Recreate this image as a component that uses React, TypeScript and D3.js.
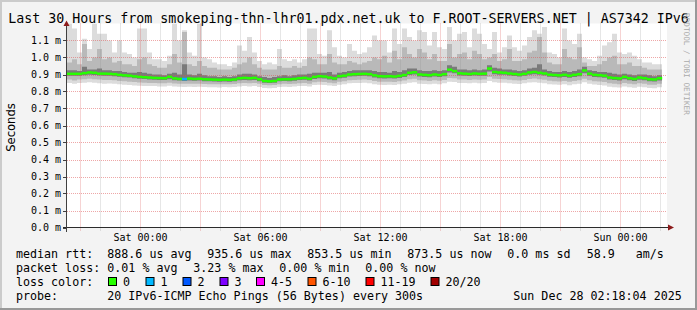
import React from 'react';
import * as d3 from 'd3';

const W = 697;
const H = 310;

const titleText = 'Last 30 Hours from smokeping-thn-lhr01.pdx.net.uk to F.ROOT-SERVERS.NET | AS7342 IPv6';
const yAxisLabel = 'Seconds';
const watermark = 'RRDTOOL / TOBI OETIKER';

const startTime = new Date(2025, 11, 26, 20, 18, 4);
const endTime = new Date(2025, 11, 28, 2, 18, 4);
const firstSample = new Date(2025, 11, 26, 20, 21, 0);
const stepMinutes = 15;

// median RTT (ms)
const median = [
  0.904, 0.904, 0.904, 0.908, 0.912, 0.910, 0.905, 0.905, 0.904, 0.902,
  0.898, 0.895, 0.893, 0.889, 0.886, 0.884, 0.882, 0.880, 0.879, 0.878,
  0.886, 0.877, 0.874, 0.873, 0.876, 0.874, 0.875, 0.872, 0.871, 0.870,
  0.869, 0.870, 0.869, 0.871, 0.878, 0.880, 0.878, 0.880, 0.872, 0.862,
  0.860, 0.862, 0.871, 0.872, 0.872, 0.874, 0.878, 0.880, 0.875, 0.886,
  0.890, 0.888, 0.882, 0.877, 0.890, 0.893, 0.900, 0.902, 0.903, 0.904,
  0.902, 0.895, 0.890, 0.889, 0.890, 0.888, 0.892, 0.897, 0.910, 0.913,
  0.900, 0.898, 0.896, 0.900, 0.897, 0.902, 0.928, 0.920, 0.907, 0.905,
  0.903, 0.906, 0.904, 0.905, 0.935, 0.915, 0.912, 0.910, 0.906, 0.903,
  0.900, 0.904, 0.912, 0.915, 0.910, 0.906, 0.899, 0.897, 0.895, 0.898,
  0.893, 0.898, 0.902, 0.924, 0.905, 0.898, 0.896, 0.893, 0.882, 0.879,
  0.877, 0.886, 0.878, 0.874, 0.882, 0.878, 0.872, 0.871, 0.878,
];

// highest ping per step
const pingMax = [
  1.20, 1.17, 1.03, 1.11, 1.05, 1.20, 1.14, 1.14, 1.10, 1.03,
  1.10, 1.03, 1.02, 1.00, 1.17, 1.17, 1.03, 0.99, 0.99, 0.98,
  1.01, 1.20, 1.10, 1.16, 1.03, 1.01, 1.20, 1.00, 0.99, 0.97,
  0.96, 0.96, 0.95, 0.97, 1.07, 1.04, 1.12, 1.03, 0.98, 0.96,
  0.97, 0.96, 1.05, 0.99, 0.98, 0.99, 0.97, 0.99, 1.17, 1.17,
  1.02, 1.01, 1.16, 1.06, 1.01, 1.00, 1.08, 1.04, 1.02, 1.03,
  1.06, 1.13, 1.10, 1.10, 1.03, 1.17, 1.08, 1.17, 1.12, 1.10,
  1.16, 1.15, 1.07, 1.15, 1.06, 1.05, 1.18, 1.10, 1.14, 1.15,
  1.06, 1.17, 1.14, 1.08, 1.05, 1.15, 1.03, 1.06, 1.13, 1.06,
  1.04, 1.07, 1.12, 1.16, 1.14, 1.18, 1.03, 1.02, 1.00, 1.17,
  1.10, 1.08, 1.14, 1.00, 0.99, 0.98, 1.01, 1.07, 1.09, 1.14,
  1.03, 1.02, 1.03, 1.01, 0.99, 0.97, 0.97, 0.96, 0.96,
];

// upper outer percentile
const pingHighMid = [
  0.97, 0.99, 0.96, 1.08, 0.98, 1.00, 1.05, 0.99, 1.00, 0.97,
  0.98, 0.96, 0.96, 0.95, 0.99, 1.00, 0.96, 0.95, 0.94, 0.94,
  0.96, 1.02, 0.97, 1.15, 0.96, 0.95, 0.98, 0.95, 0.94, 0.94,
  0.93, 0.93, 0.93, 0.94, 0.96, 0.97, 1.00, 0.96, 0.94, 0.93,
  0.93, 0.93, 0.95, 0.94, 0.94, 0.95, 0.94, 0.95, 1.00, 0.99,
  0.96, 0.96, 1.02, 0.97, 0.96, 0.96, 0.98, 0.97, 0.96, 0.97,
  0.98, 1.00, 0.99, 1.01, 0.97, 1.04, 0.99, 1.06, 1.02, 1.00,
  1.05, 1.03, 0.99, 1.02, 0.98, 0.98, 1.08, 1.00, 1.02, 1.03,
  0.99, 1.04, 1.02, 0.99, 1.00, 1.02, 0.98, 0.99, 1.05, 0.98,
  0.98, 0.99, 1.03, 1.04, 1.12, 1.03, 0.97, 0.96, 0.96, 1.05,
  1.00, 0.99, 1.06, 0.97, 0.95, 0.95, 0.96, 0.98, 1.00, 1.01,
  0.96, 0.96, 0.97, 0.95, 0.95, 0.94, 0.93, 0.93, 0.93,
];

// upper inner percentile
const pingHighCore = [
  0.925, 0.925, 0.920, 0.945, 0.930, 0.930, 0.935, 0.925, 0.925, 0.920,
  0.920, 0.915, 0.910, 0.910, 0.915, 0.910, 0.905, 0.900, 0.900, 0.895,
  0.905, 0.910, 0.900, 0.960, 0.900, 0.895, 0.905, 0.895, 0.890, 0.890,
  0.885, 0.890, 0.885, 0.890, 0.900, 0.905, 0.905, 0.900, 0.890, 0.885,
  0.880, 0.885, 0.890, 0.895, 0.890, 0.895, 0.900, 0.900, 0.905, 0.910,
  0.910, 0.910, 0.915, 0.900, 0.910, 0.915, 0.920, 0.925, 0.925, 0.925,
  0.925, 0.920, 0.915, 0.915, 0.910, 0.920, 0.915, 0.925, 0.935, 0.935,
  0.925, 0.920, 0.920, 0.925, 0.920, 0.925, 0.955, 0.945, 0.930, 0.930,
  0.925, 0.930, 0.925, 0.930, 0.955, 0.940, 0.935, 0.930, 0.930, 0.925,
  0.920, 0.925, 0.935, 0.940, 0.960, 0.930, 0.920, 0.915, 0.915, 0.920,
  0.915, 0.920, 0.930, 0.945, 0.925, 0.920, 0.915, 0.915, 0.910, 0.905,
  0.900, 0.905, 0.900, 0.895, 0.900, 0.900, 0.895, 0.890, 0.895,
];

// lower inner percentile
const pingLowCore = [
  0.892, 0.892, 0.892, 0.895, 0.899, 0.897, 0.894, 0.893, 0.892, 0.890,
  0.887, 0.884, 0.882, 0.878, 0.875, 0.873, 0.871, 0.869, 0.868, 0.867,
  0.872, 0.866, 0.864, 0.862, 0.864, 0.863, 0.864, 0.861, 0.860, 0.859,
  0.858, 0.859, 0.858, 0.860, 0.866, 0.868, 0.866, 0.868, 0.861, 0.852,
  0.850, 0.852, 0.860, 0.862, 0.861, 0.863, 0.867, 0.869, 0.864, 0.874,
  0.878, 0.876, 0.871, 0.866, 0.878, 0.881, 0.888, 0.890, 0.891, 0.892,
  0.890, 0.883, 0.878, 0.877, 0.878, 0.876, 0.880, 0.885, 0.897, 0.900,
  0.888, 0.886, 0.884, 0.888, 0.885, 0.890, 0.912, 0.907, 0.894, 0.893,
  0.891, 0.894, 0.892, 0.893, 0.917, 0.902, 0.899, 0.898, 0.894, 0.891,
  0.888, 0.892, 0.899, 0.902, 0.898, 0.894, 0.887, 0.885, 0.883, 0.886,
  0.881, 0.886, 0.890, 0.907, 0.892, 0.886, 0.884, 0.881, 0.870, 0.867,
  0.865, 0.872, 0.866, 0.862, 0.869, 0.866, 0.860, 0.859, 0.865,
];

// lower outer percentile
const pingLowMid = [
  0.870, 0.865, 0.870, 0.872, 0.875, 0.872, 0.870, 0.868, 0.868, 0.866,
  0.862, 0.860, 0.858, 0.856, 0.853, 0.852, 0.850, 0.850, 0.849, 0.848,
  0.852, 0.847, 0.846, 0.845, 0.846, 0.845, 0.846, 0.844, 0.843, 0.842,
  0.842, 0.843, 0.842, 0.844, 0.848, 0.850, 0.848, 0.850, 0.845, 0.838,
  0.837, 0.838, 0.843, 0.845, 0.844, 0.846, 0.849, 0.850, 0.846, 0.855,
  0.858, 0.856, 0.852, 0.848, 0.858, 0.861, 0.866, 0.868, 0.869, 0.870,
  0.868, 0.862, 0.858, 0.857, 0.858, 0.856, 0.860, 0.864, 0.872, 0.875,
  0.866, 0.864, 0.862, 0.866, 0.863, 0.868, 0.880, 0.878, 0.870, 0.870,
  0.868, 0.871, 0.869, 0.870, 0.885, 0.875, 0.873, 0.872, 0.869, 0.866,
  0.864, 0.868, 0.874, 0.876, 0.872, 0.869, 0.863, 0.861, 0.859, 0.862,
  0.857, 0.862, 0.866, 0.875, 0.866, 0.861, 0.859, 0.856, 0.848, 0.845,
  0.843, 0.850, 0.845, 0.842, 0.848, 0.845, 0.840, 0.839, 0.845,
];

// lowest ping per step
const pingMin = [
  0.850, 0.845, 0.850, 0.852, 0.855, 0.852, 0.848, 0.846, 0.847, 0.845,
  0.842, 0.840, 0.838, 0.836, 0.834, 0.833, 0.832, 0.832, 0.830, 0.829,
  0.834, 0.829, 0.828, 0.827, 0.828, 0.826, 0.828, 0.826, 0.825, 0.825,
  0.824, 0.826, 0.825, 0.827, 0.830, 0.832, 0.830, 0.832, 0.827, 0.820,
  0.819, 0.820, 0.826, 0.828, 0.827, 0.829, 0.832, 0.833, 0.830, 0.838,
  0.840, 0.838, 0.835, 0.832, 0.840, 0.843, 0.848, 0.850, 0.850, 0.851,
  0.849, 0.843, 0.840, 0.838, 0.840, 0.838, 0.842, 0.846, 0.852, 0.855,
  0.846, 0.844, 0.842, 0.846, 0.843, 0.848, 0.858, 0.856, 0.850, 0.850,
  0.848, 0.851, 0.849, 0.850, 0.862, 0.854, 0.852, 0.851, 0.849, 0.846,
  0.844, 0.848, 0.853, 0.855, 0.851, 0.848, 0.843, 0.841, 0.839, 0.842,
  0.837, 0.842, 0.846, 0.855, 0.846, 0.841, 0.838, 0.835, 0.828, 0.825,
  0.823, 0.830, 0.825, 0.822, 0.828, 0.825, 0.820, 0.819, 0.825,
];

// lost pings per step (of 20)
const lossCount = [
  0, 0, 0, 0, 0, 0, 0, 0, 0, 0,
  0, 0, 0, 0, 0, 0, 0, 0, 0, 0,
  0, 0, 0, 1, 0, 0, 0, 0, 0, 0,
  0, 0, 0, 0, 0, 0, 0, 0, 0, 0,
  0, 0, 0, 0, 0, 0, 0, 0, 0, 0,
  0, 0, 0, 0, 0, 0, 0, 0, 0, 0,
  0, 0, 0, 0, 0, 0, 0, 0, 0, 0,
  0, 0, 0, 0, 0, 0, 0, 0, 0, 0,
  0, 0, 0, 0, 0, 0, 0, 0, 0, 0,
  0, 0, 0, 0, 0, 0, 0, 0, 0, 0,
  0, 0, 0, 0, 0, 0, 0, 0, 0, 0,
  0, 0, 0, 0, 0, 0, 0, 0, 0,
];

const lossLabels = ['0', '1', '2', '3', '4-5', '6-10', '11-19', '20/20'];
const lossUpper = [0, 1, 2, 3, 5, 10, 19, 20];
const lossColors = ['#26ff00', '#00b8ff', '#0059ff', '#7e00ff', '#ff00ff', '#ff5500', '#ff0000', '#a10000'];

const rttStats = ['888.6 us avg', '935.6 us max', '853.5 us min', '873.5 us now', '0.0 ms sd', '58.9   am/s'];
const lossStats = ['0.01 % avg', '3.23 % max', '0.00 % min', '0.00 % now'];
const probeText = '20 IPv6-ICMP Echo Pings (56 Bytes) every 300s';
const dateText = 'Sun Dec 28 02:18:04 2025';

type Row = { t: Date; med: number; max: number; hm: number; hc: number; lc: number; lm: number; min: number; loss: number };

const MONO = '"DejaVu Sans Mono", monospace';
const SANS = '"DejaVu Sans", sans-serif';

export default function App() {
  const x = d3.scaleTime().domain([startTime, endTime]).range([66, 666]);
  const y = d3.scaleLinear().domain([0, 1.2]).range([227.5, 23.5]);
  const stepMs = stepMinutes * 60000;

  const rows: Row[] = median.map((m, i) => ({
    t: new Date(firstSample.getTime() + i * stepMs),
    med: m,
    max: pingMax[i],
    hm: pingHighMid[i],
    hc: pingHighCore[i],
    lc: pingLowCore[i],
    lm: pingLowMid[i],
    min: pingMin[i],
    loss: lossCount[i],
  }));
  const last = rows[rows.length - 1];
  const padded = [...rows, { ...last, t: new Date(last.t.getTime() + stepMs) }];

  const band = (lo: keyof Row, hi: keyof Row) =>
    d3
      .area<Row>()
      .x((d) => x(d.t))
      .y0((d) => y(d[lo] as number))
      .y1((d) => y(d[hi] as number))
      .curve(d3.curveStepAfter)(padded) || '';

  const hours = x.ticks(d3.timeHour.every(1)!);
  const labelTicks = x.ticks(d3.timeHour.every(6)!);
  const fmtTime = d3.timeFormat('%a %H:%M');
  const yTicks = d3.range(0, 12).map((k) => k / 10);
  const fmtY = d3.format('.1f');

  const lossColorFor = (l: number) => {
    const idx = lossUpper.findIndex((u) => l <= u);
    return lossColors[idx < 0 ? lossColors.length - 1 : idx];
  };

  const rttX = [107.3, 207.3, 307.3, 407.3, 507.3, 586.7];
  const lossX = [107.3, 193.3, 279.3, 365.3];
  const boxX = [108, 145.5, 182.5, 219.5, 256, 307.5, 365.5, 430.5];

  return (
    <svg
      width={W}
      height={H}
      viewBox={`0 0 ${W} ${H}`}
      style={{ position: 'absolute', left: 0, top: 0, display: 'block' }}
    >
      <defs>
        <clipPath id="plotClip">
          <rect x={67} y={23.5} width={600} height={204} />
        </clipPath>
      </defs>
      <rect x={0} y={0} width={W} height={H} fill="#f3f3f3" />
      {/* 3D frame */}
      <rect x={0} y={0} width={W} height={2} fill="#cbcbcb" />
      <rect x={0} y={0} width={2} height={H} fill="#cbcbcb" />
      <rect x={0} y={H - 2} width={W} height={2} fill="#999999" />
      <rect x={W - 2} y={0} width={2} height={H} fill="#999999" />

      {/* canvas */}
      <rect x={67} y={23.5} width={600} height={204} fill="#ffffff" />

      {/* smoke */}
      <g clipPath="url(#plotClip)">
        <path d={band('min', 'max')} fill="#dcdcdc" />
        <path d={band('lm', 'hm')} fill="#b9b9b9" />
        <path d={band('lc', 'hc')} fill="#7a7a7a" />
      </g>

      {/* grid */}
      <g>
        {yTicks.slice(1).map((v) => (
          <line
            key={'hy' + v}
            x1={67}
            x2={667}
            y1={Math.round(y(v)) + 0.5}
            y2={Math.round(y(v)) + 0.5}
            stroke="rgba(222,80,80,0.5)"
            strokeDasharray="1,1"
          />
        ))}
        {hours.map((h) => {
          const major = h.getHours() % 3 === 0;
          const xx = Math.round(x(h)) + 0.5;
          return (
            <line
              key={'vx' + h.getTime()}
              x1={xx}
              x2={xx}
              y1={23.5}
              y2={231}
              stroke={major ? 'rgba(222,80,80,0.5)' : 'rgba(143,143,143,0.45)'}
              strokeDasharray="1,1"
            />
          );
        })}
      </g>

      {/* median */}
      <g clipPath="url(#plotClip)">
        {rows.map((d, i) => {
          const x0 = x(d.t);
          const x1 = x(padded[i + 1].t);
          const yy = y(d.med);
          return (
            <rect
              key={'m' + i}
              x={x0}
              y={yy - 1.25}
              width={x1 - x0 + 0.2}
              height={2.5}
              fill={lossColorFor(d.loss)}
            />
          );
        })}
      </g>

      {/* axes */}
      <line x1={63} x2={668} y1={227.5} y2={227.5} stroke="#2c2c2c" />
      <line x1={66.5} x2={66.5} y1={25} y2={232} stroke="#404040" />
      {yTicks.map((v) => (
        <line
          key={'yt' + v}
          x1={63}
          x2={66.5}
          y1={Math.round(y(v)) + 0.5}
          y2={Math.round(y(v)) + 0.5}
          stroke="#404040"
        />
      ))}
      <polygon points="66.5,20.5 63.5,26 69.5,26" fill="#8c1a1a" />
      <polygon points="674,227.5 668,224.5 668,230.5" fill="#8c1a1a" />

      {/* y labels */}
      {yTicks.map((v) => (
        <text
          key={'yl' + v}
          x={61}
          y={y(v) + 3.5}
          textAnchor="end"
          fontFamily={MONO}
          fontSize={10}
          fill="#000"
        >
          {fmtY(v) + ' m'}
        </text>
      ))}
      {/* x labels */}
      {labelTicks.map((t) => (
        <text
          key={'xl' + t.getTime()}
          x={Math.round(x(t)) + 0.5}
          y={241}
          textAnchor="middle"
          fontFamily={MONO}
          fontSize={10}
          fill="#000"
        >
          {fmtTime(t)}
        </text>
      ))}

      {/* title */}
      <text x={348.5} y={23} textAnchor="middle" fontFamily={MONO} fontSize={13.3} fill="#000">
        {titleText}
      </text>

      {/* y-axis title */}
      <text
        transform="translate(14.5,127.5) rotate(-90)"
        textAnchor="middle"
        fontFamily={SANS}
        fontSize={11.6}
        fill="#000"
      >
        {yAxisLabel}
      </text>

      {/* watermark */}
      <text
        transform="translate(683.5,13) rotate(90)"
        fontFamily={MONO}
        fontSize={7.7}
        fill="#aaaaaa"
      >
        {watermark}
      </text>

      {/* legend */}
      <g fontFamily={MONO} fontSize={11.67} fill="#000">
        <text x={16} y={257.5}>median rtt:</text>
        {rttStats.map((s, i) => (
          <text key={'r' + i} x={rttX[i]} y={257.5} style={{ whiteSpace: 'pre' }}>
            {s}
          </text>
        ))}
        <text x={16} y={271.5}>packet loss:</text>
        {lossStats.map((s, i) => (
          <text key={'l' + i} x={lossX[i]} y={271.5}>
            {s}
          </text>
        ))}
        <text x={16} y={285.5}>loss color:</text>
        {lossLabels.map((s, i) => (
          <g key={'c' + i}>
            <rect x={boxX[i] + 0.5} y={277.5} width={8} height={8} fill={lossColors[i]} stroke="#000" strokeWidth={1} />
            <text x={boxX[i] + 15} y={285.5}>
              {s}
            </text>
          </g>
        ))}
        <text x={16} y={299.5}>probe:</text>
        <text x={107.3} y={299.5}>{probeText}</text>
        <text x={513.3} y={299.5}>{dateText}</text>
      </g>
    </svg>
  );
}
